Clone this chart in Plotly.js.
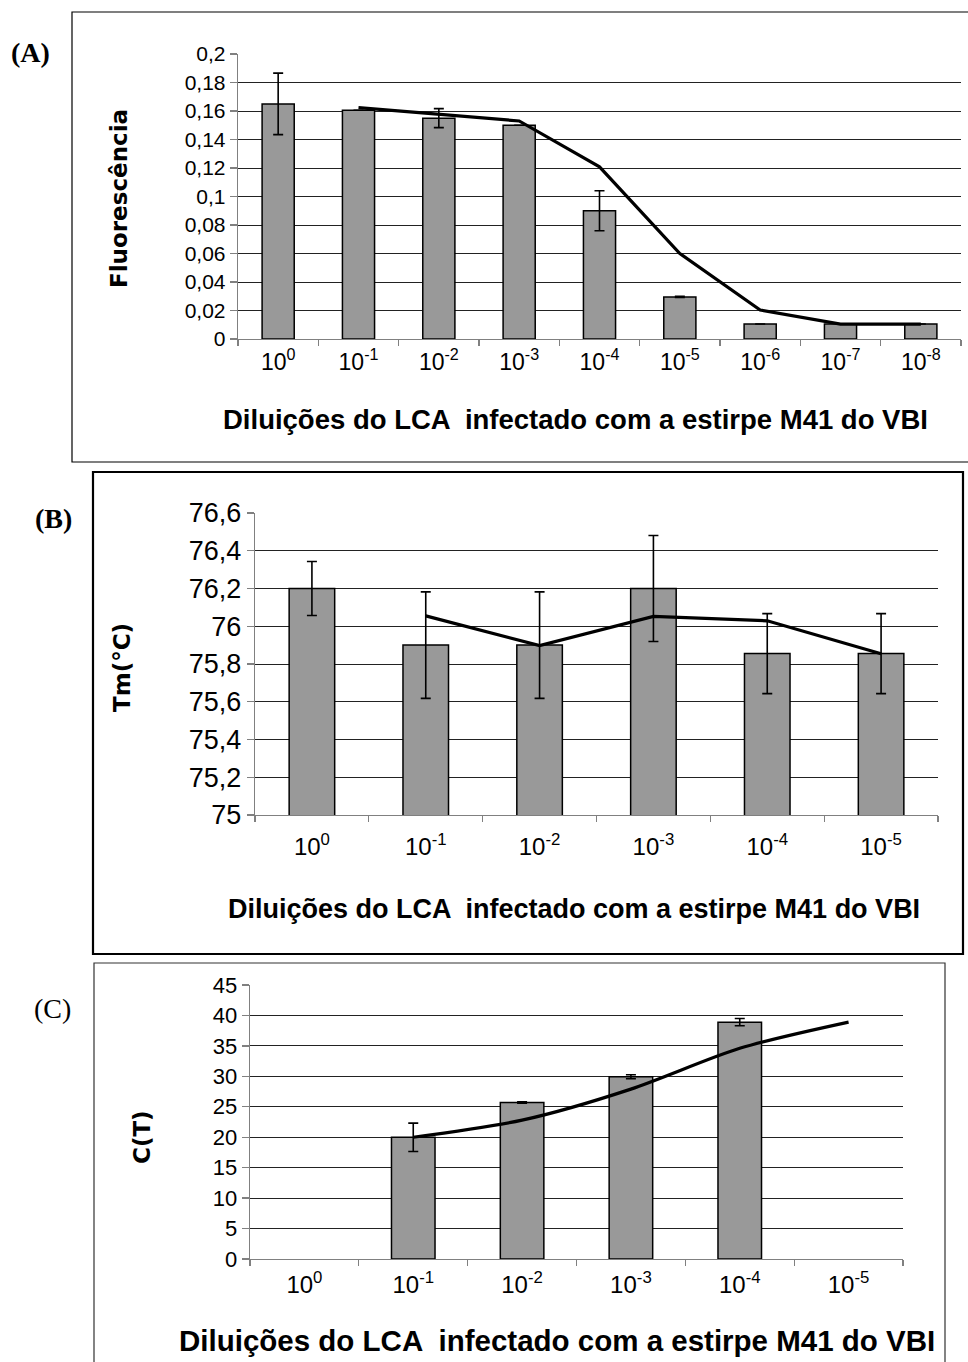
<!DOCTYPE html>
<html>
<head>
<meta charset="utf-8">
<script src="https://cdn.plot.ly/plotly-3.0.1.min.js"></script>
<style>html,body{margin:0;padding:0;background:#fff;}#chart{width:968px;height:1362px;}</style>
</head>
<body>
<div id="chart"></div>
<script>
// ---------- DATA ----------
const catsA = ["10<sup>0</sup>","10<sup>-1</sup>","10<sup>-2</sup>","10<sup>-3</sup>","10<sup>-4</sup>","10<sup>-5</sup>","10<sup>-6</sup>","10<sup>-7</sup>","10<sup>-8</sup>"];
const barsA = [0.165, 0.1605, 0.155, 0.15, 0.09, 0.0295, 0.0105, 0.0105, 0.0105];
const errA  = [0.0216, 0, 0.0067, 0, 0.014, 0.0004, 0, 0, 0];
const lineCatsA = catsA.slice(1);
const lineA = [0.1624, 0.1577, 0.153, 0.1208, 0.060, 0.0203, 0.0105, 0.0105];

const catsB = ["10<sup>0</sup>","10<sup>-1</sup>","10<sup>-2</sup>","10<sup>-3</sup>","10<sup>-4</sup>","10<sup>-5</sup>"];
const barsB = [76.2, 75.9, 75.9, 76.2, 75.855, 75.855];
const errB  = [0.143, 0.282, 0.282, 0.281, 0.212, 0.212];
const lineCatsB = catsB.slice(1);
const lineB = [76.055, 75.898, 76.052, 76.029, 75.854];

const catsC = ["10<sup>0</sup>","10<sup>-1</sup>","10<sup>-2</sup>","10<sup>-3</sup>","10<sup>-4</sup>","10<sup>-5</sup>"];
const barsC = [null, 19.98, 25.7, 29.94, 38.9, null];
const errC  = [0, 2.33, 0.1, 0.33, 0.6, 0];
const lineCatsC = catsC.slice(1);
const lineC = [20.0, 22.8, 27.9, 34.6, 38.9];

const xTitle = "Diluições do LCA  infectado com a estirpe M41 do VBI";
const yTitleA = "Fluorescência";
const yTitleB = "Tm(°C)";
const yTitleC = "C(T)";

// ---------- LAYOUT HELPERS ----------
const W = 968, H = 1362;
const px = v => v / W;
const py = v => 1 - v / H;
const SANS = "Liberation Sans, Arial, Helvetica, sans-serif";
const DJ = "DejaVu Sans, sans-serif";
const SERIF = "Liberation Serif, Times New Roman, serif";

function barTrace(x, y, err, xa, ya) {
  return {type: "bar", x: x, y: y, xaxis: xa, yaxis: ya, width: 0.4,
    marker: {color: "#999999", line: {color: "#000", width: 1.5}},
    error_y: {type: "data", array: err, visible: true, color: "#000", thickness: 1.6, width: 5},
    hoverinfo: "skip", showlegend: false};
}
function lineTrace(x, y, xa, ya, spline) {
  return {type: "scatter", mode: "lines", x: x, y: y, xaxis: xa, yaxis: ya,
    line: {color: "#000", width: 3.2, shape: spline ? "spline" : "linear", smoothing: 0.8},
    hoverinfo: "skip", showlegend: false};
}

const data = [
  barTrace(catsA, barsA, errA, "x", "y"),
  lineTrace(lineCatsA, lineA, "x", "y", false),
  barTrace(catsB, barsB, errB, "x2", "y2"),
  lineTrace(lineCatsB, lineB, "x2", "y2", false),
  barTrace(catsC, barsC, errC, "x3", "y3"),
  lineTrace(lineCatsC, lineC, "x3", "y3", true)
];

function xAxis(dom, anchor, cats, fs, standoff) {
  return {domain: dom, anchor: anchor, type: "category", categoryorder: "array", categoryarray: cats,
    range: [-0.5, cats.length - 0.5], showgrid: false, zeroline: false,
    showline: true, linecolor: "#808080", linewidth: 1.3,
    ticks: "outside", tickson: "boundaries", ticklen: 6, tickcolor: "#808080", tickwidth: 1.3,
    ticklabelstandoff: standoff,
    tickfont: {family: SANS, size: fs, color: "#000"}, fixedrange: true};
}
function yAxis(dom, anchor, range, dtick, fs) {
  return {domain: dom, anchor: anchor, range: range, dtick: dtick, tick0: range[0],
    showgrid: true, gridcolor: "#222", gridwidth: 1, zeroline: false,
    showline: true, linecolor: "#808080", linewidth: 1.3,
    ticks: "outside", ticklen: 7, tickcolor: "#808080", tickwidth: 1.3,
    tickfont: {family: SANS, size: fs, color: "#000"}, fixedrange: true};
}

const layout = {
  width: W, height: H, margin: {l: 0, r: 0, t: 0, b: 0},
  paper_bgcolor: "#fff", plot_bgcolor: "rgba(0,0,0,0)",
  separators: ", ",
  showlegend: false,
  xaxis:  xAxis([px(238), px(961)], "y", catsA, 23, 2),
  yaxis:  yAxis([py(339), py(54)], "x", [0, 0.2], 0.02, 21),
  xaxis2: xAxis([px(255), px(938)], "y2", catsB, 24, 10),
  yaxis2: yAxis([py(815), py(513)], "x2", [75, 76.6], 0.2, 27),
  xaxis3: xAxis([px(250), px(903)], "y3", catsC, 24, 4),
  yaxis3: yAxis([py(1259), py(985)], "x3", [0, 45], 5, 22),
  shapes: [
    {type: "rect", xref: "paper", yref: "paper", x0: px(72), x1: px(990), y0: py(462), y1: py(12),
     line: {color: "#000", width: 1.2}, fillcolor: "rgba(0,0,0,0)", layer: "below"},
    {type: "rect", xref: "paper", yref: "paper", x0: px(93), x1: px(963), y0: py(954), y1: py(472),
     line: {color: "#000", width: 2.2}, fillcolor: "rgba(0,0,0,0)", layer: "below"},
    {type: "rect", xref: "paper", yref: "paper", x0: px(94), x1: px(945), y0: py(1400), y1: py(963),
     line: {color: "#333", width: 1.2}, fillcolor: "rgba(0,0,0,0)", layer: "below"}
  ],
  annotations: [
    {text: "<b>(A)</b>", x: px(31), y: py(53), xref: "paper", yref: "paper", showarrow: false,
     font: {family: SERIF, size: 28, color: "#000"}, xanchor: "center", yanchor: "middle"},
    {text: "<b>(B)</b>", x: px(53), y: py(518), xref: "paper", yref: "paper", showarrow: false,
     font: {family: SERIF, size: 28, color: "#000"}, xanchor: "center", yanchor: "middle"},
    {text: "(C)", x: px(52), y: py(1008), xref: "paper", yref: "paper", showarrow: false,
     font: {family: SERIF, size: 28, color: "#000"}, xanchor: "center", yanchor: "middle"},
    {text: "<b>" + yTitleA + "</b>", x: px(119), y: py(199), xref: "paper", yref: "paper", showarrow: false,
     textangle: -90, font: {family: DJ, size: 23, color: "#000"}, xanchor: "center", yanchor: "middle"},
    {text: "<b>" + yTitleB + "</b>", x: px(122), y: py(668), xref: "paper", yref: "paper", showarrow: false,
     textangle: -90, font: {family: DJ, size: 23, color: "#000"}, xanchor: "center", yanchor: "middle"},
    {text: "<b>" + yTitleC + "</b>", x: px(142), y: py(1137), xref: "paper", yref: "paper", showarrow: false,
     textangle: -90, font: {family: DJ, size: 23, color: "#000"}, xanchor: "center", yanchor: "middle"},
    {text: "<b>" + xTitle + "</b>", x: px(575), y: py(420), xref: "paper", yref: "paper", showarrow: false,
     font: {family: SANS, size: 27.5, color: "#000"}, xanchor: "center", yanchor: "middle"},
    {text: "<b>" + xTitle + "</b>", x: px(574), y: py(909), xref: "paper", yref: "paper", showarrow: false,
     font: {family: SANS, size: 27, color: "#000"}, xanchor: "center", yanchor: "middle"},
    {text: "<b>" + xTitle + "</b>", x: px(557), y: py(1340), xref: "paper", yref: "paper", showarrow: false,
     font: {family: SANS, size: 29.5, color: "#000"}, xanchor: "center", yanchor: "middle"}
  ]
};

Plotly.newPlot("chart", data, layout, {staticPlot: true, displayModeBar: false});
</script>
</body>
</html>
